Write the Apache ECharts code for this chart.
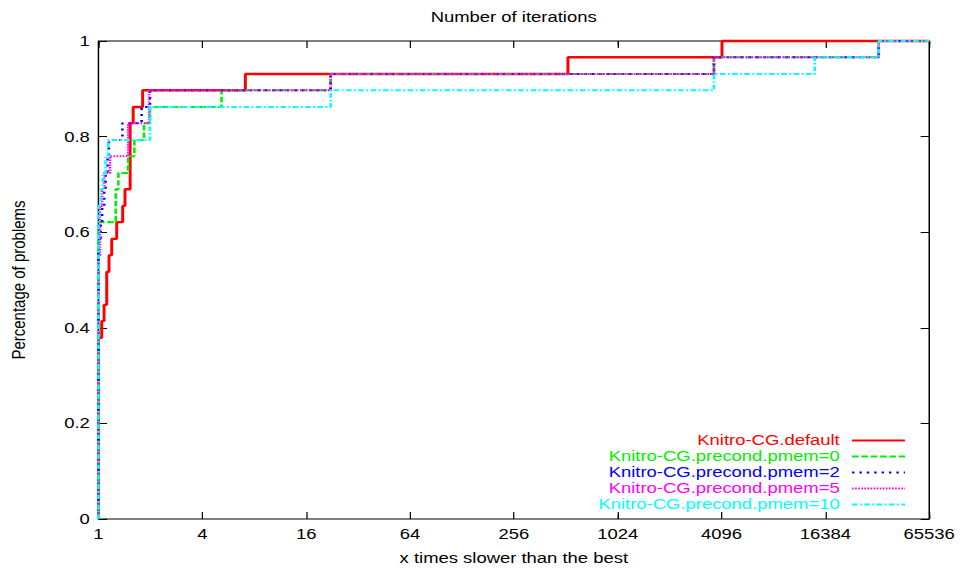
<!DOCTYPE html>
<html>
<head>
<meta charset="utf-8">
<script src="https://cdn.jsdelivr.net/npm/echarts@6/dist/echarts.min.js"></script>
<style>
html,body{margin:0;padding:0;background:#fff;overflow:hidden;}
#wrap{width:961px;height:571px;overflow:hidden;}
#c{width:781px;height:571px;transform:scaleX(1.23047);transform-origin:0 0;}
</style>
</head>
<body>
<div id="wrap"><div id="c"></div></div>
<script>
// ---- data ----
const titleText = 'Number of iterations';
const xAxisName = 'x times slower than the best';
const yAxisName = 'Percentage of problems';
const xTickValues = [1, 4, 16, 64, 256, 1024, 4096, 16384, 65536];
const xTickLabels = ['1', '4', '16', '64', '256', '1024', '4096', '16384', '65536'];
const yTickValues = [0, 0.2, 0.4, 0.6, 0.8, 1];
const yTickLabels = ['0', '0.2', '0.4', '0.6', '0.8', '1'];
const seriesNames = ['Knitro-CG.default', 'Knitro-CG.precond.pmem=0', 'Knitro-CG.precond.pmem=2', 'Knitro-CG.precond.pmem=5', 'Knitro-CG.precond.pmem=10'];

const defaultX = [1, 1, 1.045, 1.078, 1.117, 1.152, 1.194, 1.276, 1.382, 1.425, 1.527, 1.59, 1.804, 7.11, 527, 4120, 65536];
const defaultY = [0, 0.379, 0.414, 0.448, 0.517, 0.552, 0.586, 0.621, 0.655, 0.690, 0.828, 0.862, 0.897, 0.931, 0.966, 1, 1];

const pmem0X = [1, 1, 1.26, 1.305, 1.487, 1.615, 1.836, 1.99, 5.17, 22.2, 3700, 33400, 65536];
const pmem0Y = [0, 0.621, 0.690, 0.724, 0.759, 0.793, 0.828, 0.862, 0.897, 0.931, 0.966, 1, 1];

const pmem2X = [1, 1, 1.03, 1.05, 1.08, 1.10, 1.13, 1.15, 1.377, 1.78, 1.99, 22.2, 3700, 33400, 65536];
const pmem2Y = [0, 0.586, 0.621, 0.655, 0.690, 0.724, 0.759, 0.793, 0.828, 0.862, 0.897, 0.931, 0.966, 1, 1];

const pmem5X = [1, 1, 1.02, 1.05, 1.08, 1.167, 1.487, 1.967, 22.2, 3700, 33400, 65536];
const pmem5Y = [0, 0.552, 0.655, 0.690, 0.724, 0.759, 0.828, 0.897, 0.931, 0.966, 1, 1];

const pmem10X = [1, 1, 1.03, 1.06, 1.10, 1.14, 1.99, 22.2, 3700, 14200, 33400, 65536];
const pmem10Y = [0, 0.655, 0.690, 0.724, 0.759, 0.793, 0.862, 0.897, 0.931, 0.966, 1, 1];

// ---- styles ----
const colors = ['#ff0000', '#00ee00', '#0000ff', '#ff00ff', '#00ffff'];
const dashes = ['solid', [5.4, 2.2], [2, 4], [1.3, 1.2], [4.5, 2, 1.5, 2]];
const widths = [2.4, 2.1, 2.1, 2.1, 2.1];
const FONT = '"Liberation Sans", Arial, Helvetica, sans-serif';

const xs = [defaultX, pmem0X, pmem2X, pmem5X, pmem10X];
const ys = [defaultY, pmem0Y, pmem2Y, pmem5Y, pmem10Y];

function xLabel(v) {
  const r = Math.round(v);
  const i = xTickValues.indexOf(r);
  return i >= 0 ? xTickLabels[i] : '';
}
function yLabel(v) {
  const i = yTickValues.findIndex(t => Math.abs(t - v) < 1e-6);
  return i >= 0 ? yTickLabels[i] : '';
}

const chart = echarts.init(document.getElementById('c'), null, {renderer: 'svg'});

const baseX = {
  type: 'log', min: 1, max: 65536,
  axisLine: {show: false},
  splitLine: {show: false},
  minorTick: {show: false}
};

const option = {
  animation: false,
  backgroundColor: '#fff',
  title: {
    text: titleText, left: 345, top: 5,
    textStyle: {fontFamily: FONT, fontSize: 15, fontWeight: 'normal', color: '#000'}
  },
  grid: {left: 78.6, right: 25.8, top: 41, bottom: 50, show: true, borderColor: '#000', borderWidth: 1.2, containLabel: false},
  legend: {
    orient: 'vertical', right: 39.5, top: 428, align: 'right',
    itemWidth: 43, itemHeight: 15, itemGap: 1,
    selectedMode: false,
    itemStyle: {opacity: 0, borderWidth: 0},
    lineStyle: {width: 2.1},
    textStyle: {fontFamily: FONT, fontSize: 15, lineHeight: 15, padding: [0, 5, 0, 0]},
    data: seriesNames.map((n, i) => ({name: n, textStyle: {color: colors[i]}}))
  },
  xAxis: [
    Object.assign({}, baseX, {
      position: 'bottom', logBase: 4, splitNumber: 8,
      name: xAxisName, nameLocation: 'middle', nameGap: 32,
      nameTextStyle: {fontFamily: FONT, fontSize: 15, color: '#000'},
      axisTick: {show: true, inside: true, length: 7, lineStyle: {color: '#000', width: 1}},
      axisLabel: {show: true, margin: 8, fontFamily: FONT, fontSize: 15, color: '#000', formatter: xLabel, showMinLabel: true, showMaxLabel: true}
    }),
    Object.assign({}, baseX, {
      position: 'bottom', logBase: 2, splitNumber: 16,
      axisTick: {show: true, inside: true, length: 4, lineStyle: {color: '#000', width: 1}},
      axisLabel: {show: false}
    }),
    Object.assign({}, baseX, {
      position: 'top', logBase: 4, splitNumber: 8,
      axisTick: {show: true, inside: true, length: 7, lineStyle: {color: '#000', width: 1}},
      axisLabel: {show: false}
    }),
    Object.assign({}, baseX, {
      position: 'top', logBase: 2, splitNumber: 16,
      axisTick: {show: true, inside: true, length: 4, lineStyle: {color: '#000', width: 1}},
      axisLabel: {show: false}
    })
  ],
  yAxis: [
    {
      type: 'value', min: 0, max: 1, interval: 0.2, position: 'left',
      name: yAxisName, nameLocation: 'middle', nameGap: 57, nameRotate: 90,
      nameTextStyle: {fontFamily: FONT, fontSize: 15, color: '#000'},
      axisLine: {show: false}, splitLine: {show: false},
      axisTick: {show: true, inside: true, length: 7, lineStyle: {color: '#000', width: 1}},
      axisLabel: {margin: 7, fontFamily: FONT, fontSize: 15, color: '#000', formatter: yLabel}
    },
    {
      type: 'value', min: 0, max: 1, interval: 0.2, position: 'right',
      axisLine: {show: false}, splitLine: {show: false},
      axisTick: {show: true, inside: true, length: 7, lineStyle: {color: '#000', width: 1}},
      axisLabel: {show: false}
    }
  ],
  series: seriesNames.map((n, i) => ({
    name: n, type: 'line', step: 'end', symbol: 'none',
    xAxisIndex: 0, yAxisIndex: 0,
    clip: false,
    lineStyle: {color: colors[i], width: widths[i], type: dashes[i], cap: 'butt'},
    itemStyle: {color: colors[i]},
    emphasis: {disabled: true},
    data: xs[i].map((x, k) => [x, ys[i][k]])
  }))
};
chart.setOption(option);
</script>
</body>
</html>
